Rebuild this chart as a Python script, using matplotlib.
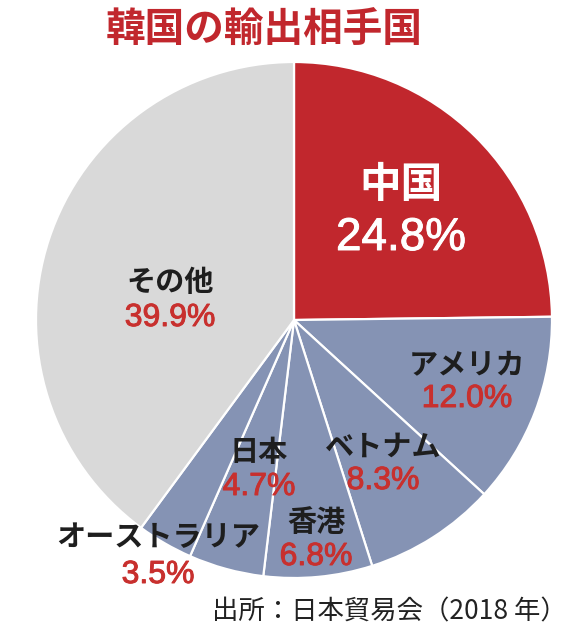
import matplotlib
matplotlib.use("Agg")
import matplotlib.pyplot as plt
import matplotlib.patheffects as pe

plt.rcParams['font.family'] = ['Noto Sans CJK JP', 'DejaVu Sans']

# データ（時計回り、12時の位置から）
countries = ['中国', 'アメリカ', 'ベトナム', '香港', '日本', 'オーストラリア', 'その他']
shares = [24.8, 12.0, 8.3, 6.8, 4.7, 3.5, 39.9]
slice_colors = ['#c1272d', '#8593b4', '#8593b4', '#8593b4', '#8593b4', '#8593b4', '#d9d9d9']

# ラベル位置（画像上のピクセル座標: x, 名前のy, 割合のy）
label_pos = {
    '中国': (401, 185, 238),
    'アメリカ': (467, 364, 399),
    'ベトナム': (383, 447, 481),
    '香港': (316, 522, 557),
    '日本': (259, 452, 487),
    'オーストラリア': (158, 537, 575),
    'その他': (170, 282, 318),
}

W, H = 579, 640
fig = plt.figure(figsize=(W / 100, H / 100), dpi=100)
fig.patch.set_facecolor('white')
ax = fig.add_axes([0, 0, 1, 1])

ax.pie(shares, colors=slice_colors, startangle=90, counterclock=False,
       center=(294, H - 320), radius=258, frame=True,
       wedgeprops=dict(edgecolor='white', linewidth=1.6))
ax.set_xlim(0, W)
ax.set_ylim(0, H)
ax.axis('off')

# 割合はやや太めのサンセリフ（細い縁取りで中太に）
pct_font = ['Liberation Sans', 'DejaVu Sans']
for name, val in zip(countries, shares):
    x, y1, y2 = label_pos[name]
    if name == '中国':
        ax.text(x, H - y1, name, ha='center', va='center', fontsize=30,
                fontweight='bold', color='white')
        ax.text(x, H - y2, f'{val:.1f}%', ha='center', va='center', fontsize=33,
                family=pct_font, color='white',
                path_effects=[pe.withStroke(linewidth=0.7, foreground='white')])
    else:
        ax.text(x, H - y1, name, ha='center', va='center', fontsize=21,
                fontweight='bold', color='#1e1e1e')
        ax.text(x, H - y2, f'{val:.1f}%', ha='center', va='center', fontsize=23,
                family=pct_font, color='#c8302e',
                path_effects=[pe.withStroke(linewidth=0.7, foreground='#c8302e')])

fig.text(264 / W, 1 - 30 / H, '韓国の輸出相手国', ha='center', va='center',
         fontsize=28.5, fontweight='bold', color='#c1272d')
fig.text(567 / W, 1 - 612 / H, '出所：日本貿易会（2018 年）', ha='right', va='center',
         fontsize=19, color='#222222')

fig.savefig('out.png', dpi=100)
